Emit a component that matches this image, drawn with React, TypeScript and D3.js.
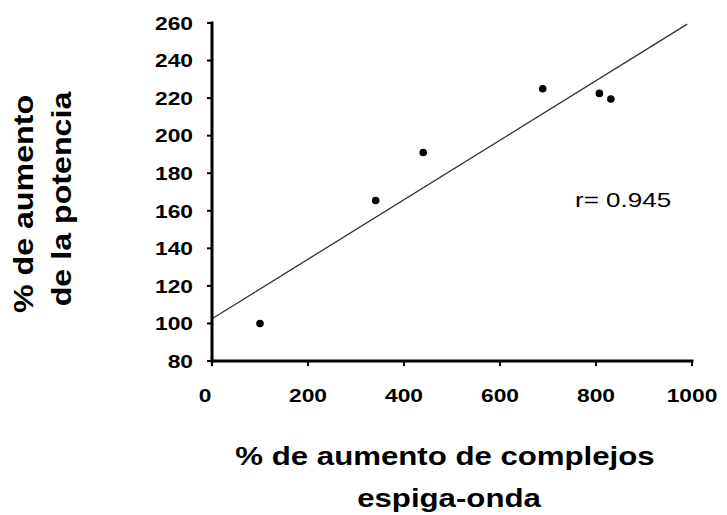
import React from 'react';
import * as d3 from 'd3';

// datos
const spikeWaveIncrease = [100, 341, 440, 689, 807, 831];
const powerIncrease = [100, 165.5, 191, 225, 222.5, 219.5];
const xTicks = [0, 200, 400, 600, 800, 1000];
const yTicks = [80, 100, 120, 140, 160, 180, 200, 220, 240, 260];
const trendRange = [0, 990];
const rLabel = 'r= 0.945';

const W = 727;
const H = 515;
const FONT = '"Liberation Sans", Arial, sans-serif';
const SX = 1.2; // el texto del original es más ancho que Arial

const App = () => {
  const x = d3.scaleLinear().domain([0, 1000]).range([212, 692]);
  const y = d3.scaleLinear().domain([80, 260]).range([361, 23]);

  // recta de regresión por mínimos cuadrados
  const mx = d3.mean(spikeWaveIncrease) as number;
  const my = d3.mean(powerIncrease) as number;
  let sxy = 0;
  let sxx = 0;
  spikeWaveIncrease.forEach((v, i) => {
    sxy += (v - mx) * (powerIncrease[i] - my);
    sxx += (v - mx) * (v - mx);
  });
  const slope = sxy / sxx;
  const intercept = my - slope * mx;
  const line = d3.line<number>()
    .x(d => x(d))
    .y(d => y(intercept + slope * d));

  const [x0, x1] = x.range();
  const [y0, y1] = y.range();

  return (
    <svg width={W} height={H} style={{ position: 'absolute', left: 0, top: 0, background: '#fff' }}>
      {/* título eje Y */}
      <g fontFamily={FONT} fontWeight="bold" fontSize={28} fill="#000" textAnchor="middle">
        <text transform={`translate(33,204) rotate(-90) scale(1.15,1)`}>% de aumento</text>
        <text transform={`translate(71,199) rotate(-90) scale(1.15,1)`}>de la potencia</text>
      </g>

      {/* título eje X */}
      <g fontFamily={FONT} fontWeight="bold" fontSize={26} fill="#000" textAnchor="middle">
        <text transform={`translate(445,465) scale(${SX},1)`}>% de aumento de complejos</text>
        <text transform={`translate(449,507) scale(${SX},1)`}>espiga-onda</text>
      </g>

      {/* regresión */}
      <path d={line(trendRange) || ''} fill="none" stroke="#333" strokeWidth={1.3} />

      {/* puntos */}
      {spikeWaveIncrease.map((v, i) => (
        <circle key={i} cx={x(v)} cy={y(powerIncrease[i])} r={3.8} fill="#000" />
      ))}

      {/* ejes */}
      <g stroke="#000" strokeWidth={3} strokeLinecap="square">
        <line x1={x0} y1={y1} x2={x0} y2={y0} />
        <line x1={x0} y1={y0} x2={x1} y2={y0} />
      </g>
      <g stroke="#000" strokeWidth={2}>
        {yTicks.map(t => (
          <line key={t} x1={x0 - 5} x2={x0} y1={y(t)} y2={y(t)} />
        ))}
        {xTicks.map(t => (
          <line key={t} x1={x(t)} x2={x(t)} y1={y0} y2={y0 + 5} />
        ))}
      </g>

      {/* etiquetas */}
      <g fontFamily={FONT} fontWeight="bold" fontSize={19} fill="#000">
        {yTicks.map(t => (
          <text key={t} textAnchor="end" transform={`translate(193,${y(t) + 6.8}) scale(${SX},1)`}>
            {t}
          </text>
        ))}
        {xTicks.map(t => (
          <text key={t} textAnchor="middle" transform={`translate(${x(t) - (t === 0 ? 7 : 0)},402) scale(${SX},1)`}>
            {t}
          </text>
        ))}
      </g>

      <text
        fontFamily={FONT}
        fontSize={20}
        fill="#000"
        transform={`translate(575,206.5) scale(1.3,1)`}
      >
        {rLabel}
      </text>
    </svg>
  );
};

export default App;
